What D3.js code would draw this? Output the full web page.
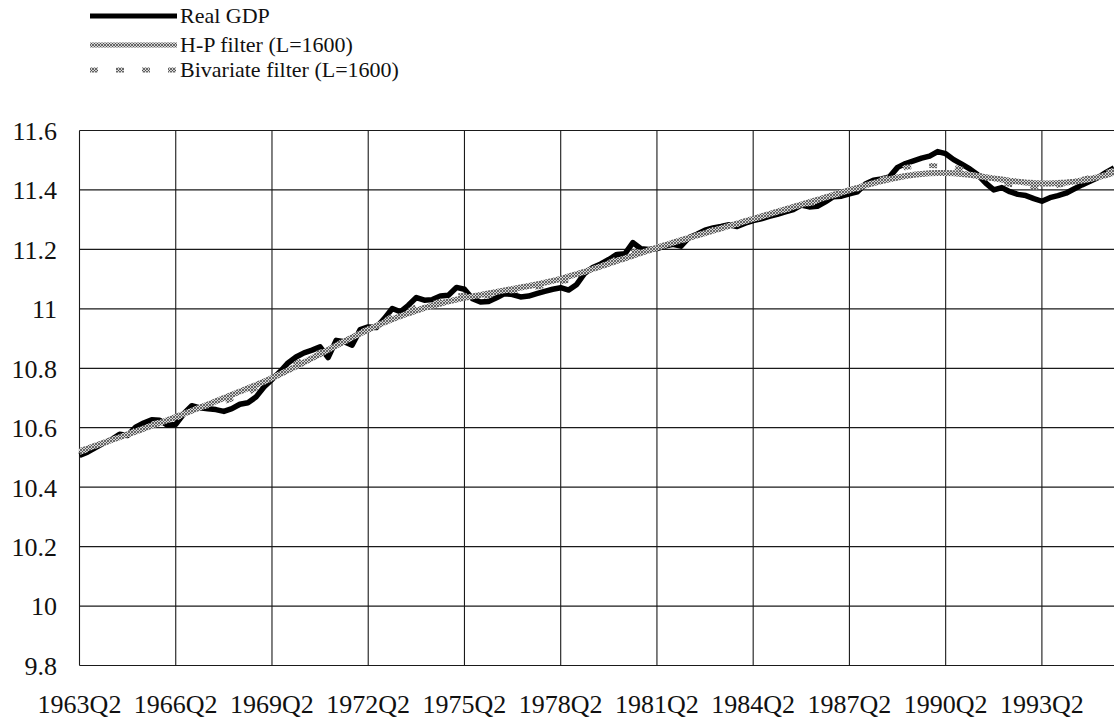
<!DOCTYPE html>
<html>
<head>
<meta charset="utf-8">
<script src="https://cdn.jsdelivr.net/npm/d3@7"></script>
<style>
  body { margin: 0; background: #fff; }
  svg text { font-family: Liberation Serif, Times New Roman, Times, serif; }
</style>
</head>
<body>
<script>
// tick labels (every 12 quarters) and y ticks
var tickLabels = ['1963Q2','1966Q2','1969Q2','1972Q2','1975Q2','1978Q2','1981Q2','1984Q2','1987Q2','1990Q2','1993Q2'];
var yTicks = [9.8, 10, 10.2, 10.4, 10.6, 10.8, 11, 11.2, 11.4, 11.6];
var seriesNames = ['Real GDP', 'H-P filter (L=1600)', 'Bivariate filter (L=1600)'];

// log real GDP, 1963Q2 .. 1995Q3
var realGDP = [
  10.507,10.518,10.533,10.548,10.560,10.578,10.574,10.602,10.616,10.627,
  10.625,10.608,10.611,10.647,10.674,10.667,10.664,10.661,10.655,10.664,
  10.679,10.684,10.703,10.737,10.762,10.788,10.818,10.838,10.852,10.861,
  10.872,10.836,10.894,10.889,10.878,10.930,10.939,10.937,10.967,11.001,
  10.990,11.012,11.038,11.029,11.031,11.043,11.046,11.072,11.066,11.034,
  11.023,11.025,11.037,11.051,11.048,11.040,11.043,11.051,11.059,11.066,
  11.071,11.063,11.082,11.120,11.139,11.151,11.166,11.183,11.185,11.223,
  11.202,11.200,11.203,11.211,11.217,11.211,11.240,11.251,11.265,11.272,
  11.277,11.283,11.277,11.288,11.297,11.303,11.311,11.318,11.326,11.334,
  11.349,11.343,11.345,11.360,11.377,11.379,11.387,11.394,11.420,11.433,
  11.437,11.444,11.476,11.489,11.498,11.507,11.514,11.529,11.522,11.502,
  11.487,11.471,11.451,11.423,11.400,11.408,11.394,11.385,11.381,11.371,
  11.362,11.374,11.381,11.389,11.403,11.417,11.429,11.442,11.459,11.474
];

var hpTrend = [
  10.521,10.530,10.540,10.549,10.559,10.568,10.578,10.587,10.597,10.607,
  10.616,10.626,10.636,10.647,10.657,10.668,10.678,10.689,10.700,10.711,
  10.722,10.733,10.744,10.755,10.767,10.780,10.793,10.806,10.820,10.834,
  10.848,10.862,10.876,10.890,10.904,10.917,10.930,10.942,10.954,10.965,
  10.975,10.985,10.994,11.003,11.011,11.018,11.025,11.031,11.037,11.042,
  11.047,11.052,11.057,11.062,11.067,11.072,11.077,11.082,11.088,11.094,
  11.101,11.109,11.117,11.125,11.134,11.143,11.152,11.161,11.170,11.179,
  11.188,11.197,11.206,11.214,11.223,11.231,11.239,11.247,11.255,11.263,
  11.271,11.279,11.287,11.295,11.303,11.311,11.319,11.327,11.335,11.343,
  11.351,11.359,11.367,11.375,11.383,11.391,11.399,11.407,11.415,11.423,
  11.430,11.436,11.442,11.447,11.451,11.454,11.456,11.457,11.457,11.456,
  11.454,11.451,11.447,11.443,11.439,11.435,11.431,11.428,11.425,11.423,
  11.422,11.422,11.423,11.425,11.428,11.432,11.437,11.443,11.450,11.458
];

var bivTrend = [
  10.517,10.526,10.538,10.549,10.559,10.571,10.577,10.592,10.603,10.613,
  10.619,10.621,10.629,10.647,10.662,10.668,10.674,10.681,10.687,10.697,
  10.709,10.718,10.732,10.750,10.766,10.782,10.801,10.816,10.830,10.842,
  10.855,10.854,10.881,10.890,10.896,10.921,10.933,10.941,10.958,10.976,
  10.980,10.993,11.007,11.011,11.017,11.026,11.031,11.043,11.046,11.040,
  11.040,11.044,11.051,11.059,11.061,11.062,11.067,11.073,11.079,11.086,
  11.092,11.095,11.107,11.124,11.136,11.145,11.156,11.168,11.175,11.192,
  11.192,11.198,11.205,11.213,11.221,11.225,11.239,11.248,11.258,11.266,
  11.273,11.280,11.284,11.293,11.301,11.309,11.317,11.324,11.332,11.340,
  11.350,11.354,11.360,11.370,11.381,11.387,11.395,11.403,11.417,11.428,
  11.436,11.442,11.462,11.476,11.479,11.481,11.482,11.481,11.480,11.476,
  11.470,11.462,11.452,11.441,11.431,11.425,11.419,11.414,11.411,11.410,
  11.410,11.412,11.416,11.421,11.428,11.435,11.442,11.450,11.458,11.467
];

// quarter categories
var quarters = [];
for (var k = 0; k < realGDP.length; k++) {
  var q = 2 + k;
  quarters.push((1963 + Math.floor((q - 1) / 4)) + 'Q' + ((q - 1) % 4 + 1));
}

var W = 1114, H = 724;
var plotLeft = 79.5, plotTop = 130.5, plotBottom = 665.5, step = 8.02;

var svg = d3.select('body').append('svg')
  .attr('width', W).attr('height', H)
  .style('display', 'block');

svg.append('rect').attr('width', W).attr('height', H).attr('fill', '#fff');

// hatched texture used by the filter lines
var defs = svg.append('defs');
var pat = defs.append('pattern')
  .attr('id', 'hatch')
  .attr('patternUnits', 'userSpaceOnUse')
  .attr('width', 3).attr('height', 3);
pat.append('rect').attr('width', 3).attr('height', 3).attr('fill', '#d4d4d4');
pat.append('path').attr('d', 'M0,3 L3,0 M0,0 L3,3')
  .attr('stroke', '#444').attr('stroke-width', 0.75);

var x = d3.scalePoint()
  .domain(quarters)
  .range([plotLeft, plotLeft + step * (quarters.length - 1)]);

var y = d3.scaleLinear()
  .domain([9.8, 11.6])
  .range([plotBottom, plotTop]);

var grid = svg.append('g');

// horizontal grid
grid.selectAll('line.h')
  .data(yTicks)
  .enter().append('line')
  .attr('class', 'h')
  .attr('x1', plotLeft).attr('x2', W)
  .attr('y1', function (d) { return y(d); })
  .attr('y2', function (d) { return y(d); })
  .attr('stroke', '#1a1a1a').attr('stroke-width', 1.2);

// vertical grid
grid.selectAll('line.v')
  .data(tickLabels)
  .enter().append('line')
  .attr('class', 'v')
  .attr('x1', function (d) { return x(d); })
  .attr('x2', function (d) { return x(d); })
  .attr('y1', plotTop).attr('y2', plotBottom)
  .attr('stroke', '#1a1a1a').attr('stroke-width', 1.1);

// y labels
svg.append('g').selectAll('text')
  .data(yTicks)
  .enter().append('text')
  .attr('x', 57)
  .attr('y', function (d) { return y(d); })
  .attr('dy', '0.36em')
  .attr('text-anchor', 'end')
  .attr('font-size', 26)
  .attr('fill', '#111')
  .text(function (d) { return d3.format('.1f')(d).replace(/\.0$/, ''); });

// x labels
svg.append('g').selectAll('text')
  .data(tickLabels)
  .enter().append('text')
  .attr('x', function (d) { return x(d); })
  .attr('y', 713)
  .attr('text-anchor', 'middle')
  .attr('font-size', 26)
  .attr('fill', '#111')
  .text(function (d) { return d; });

var line = d3.line()
  .x(function (d, i) { return x(quarters[i]); })
  .y(function (d) { return y(d); })
  .curve(d3.curveLinear);

svg.append('path')
  .datum(realGDP)
  .attr('d', line)
  .attr('fill', 'none')
  .attr('stroke', '#000')
  .attr('stroke-width', 5.5)
  .attr('stroke-linejoin', 'round');

svg.append('path')
  .datum(hpTrend)
  .attr('d', line)
  .attr('fill', 'none')
  .attr('stroke', 'url(#hatch)')
  .attr('stroke-width', 6);

svg.append('path')
  .datum(bivTrend)
  .attr('d', line)
  .attr('fill', 'none')
  .attr('stroke', 'url(#hatch)')
  .attr('stroke-width', 5)
  .attr('stroke-dasharray', '8,18');

// legend
var leg = svg.append('g');
var legY = [16, 45, 70];
var legStyle = [
  { stroke: '#000', width: 5, dash: null },
  { stroke: 'url(#hatch)', width: 5, dash: null },
  { stroke: 'url(#hatch)', width: 5, dash: '8,18' }
];
seriesNames.forEach(function (name, i) {
  leg.append('line')
    .attr('x1', 90).attr('x2', 177)
    .attr('y1', legY[i]).attr('y2', legY[i])
    .attr('stroke', legStyle[i].stroke)
    .attr('stroke-width', legStyle[i].width)
    .attr('stroke-dasharray', legStyle[i].dash);
  leg.append('text')
    .attr('x', 180).attr('y', legY[i] + 7)
    .attr('font-size', 22)
    .attr('fill', '#111')
    .text(name);
});
</script>
</body>
</html>
